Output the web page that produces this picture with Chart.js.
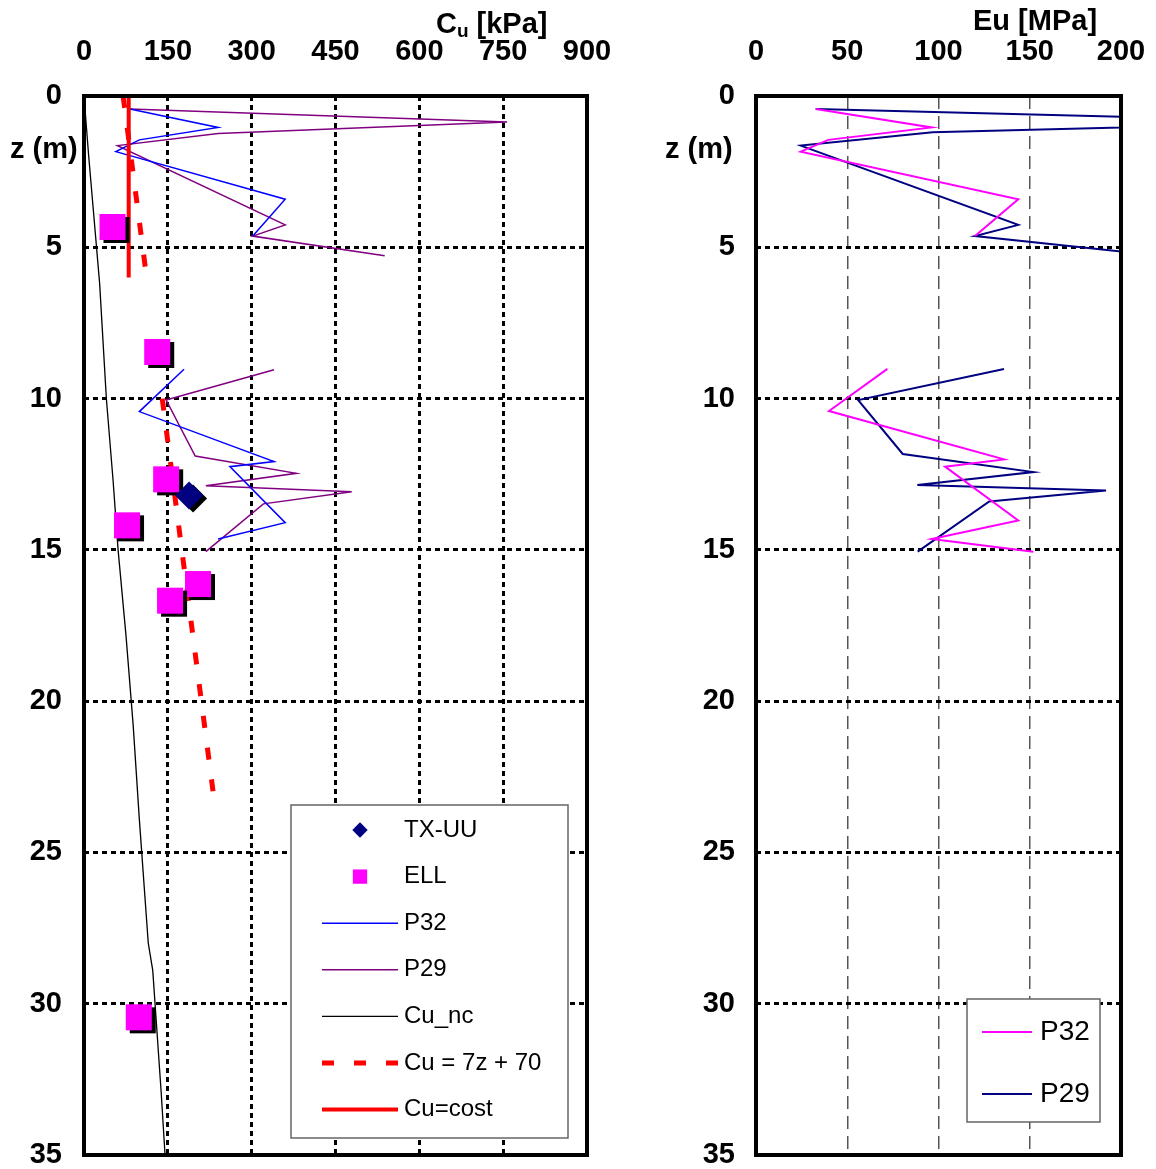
<!DOCTYPE html>
<html>
<head>
<meta charset="utf-8">
<script src="https://cdn.jsdelivr.net/npm/chart.js@4.4.1/dist/chart.umd.min.js"></script>
<style>
  html, body { margin: 0; padding: 0; background: #fff; }
  #wrap { position: relative; width: 1156px; height: 1169px; }
  canvas { position: absolute; top: 0; }
  #cuChart { left: 0; }
  #euChart { left: 640px; }
</style>
</head>
<body>
<div id="wrap">
  <canvas id="cuChart" width="640" height="1169"></canvas>
  <canvas id="euChart" width="516" height="1169"></canvas>
</div>
<script>
// ---- Undrained shear strength Cu (kPa) against depth z (m) ----
const zTxUU  = [13.2];
const cuTxUU = [188];

const zEll  = [4.33, 8.46, 12.67, 14.19, 16.13, 16.68, 30.45];
const cuEll = [51, 131, 147, 77, 204, 154, 98];

const zP32  = [0.43, 1.04, 1.45, 1.84, 3.41, 4.63, null, 9.03, 10.43, 12.08, 12.25, 14.10, 14.64];
const cuP32 = [82, 240, 99, 57, 360, 302, null, 179, 99, 340, 261, 360, 240];

const zP29  = [0.43, 0.86, 1.24, 1.64, 4.26, 4.63, 5.28, null, 9.05, 10.05, 11.90, 12.47, 12.88, 13.08, 13.48, 15.06];
const cuP29 = [82, 757, 240, 60, 360, 302, 538, null, 340, 147, 199, 380, 218, 479, 321, 218];

const zCuNc  = [0, 1.9, 6.2, 10, 12.7, 15, 17.8, 20.8, 23.9, 28, 28.9, 32.9, 35];
const cuCuNc = [0, 8, 28, 40, 52, 61, 75, 88, 99, 115, 123, 138, 145];

// Cu = 7z + 70
const zCuLin  = [0, 6, null, 10, 23];
const cuCuLin = [70, 112, null, 140, 231];

// Cu = constant
const zCuConst  = [0, 6];
const cuCuConst = [80, 80];

// ---- Undrained modulus Eu (MPa) against depth z (m) ----
const zE32 = [0.43, 1.04, 1.45, 1.84, 3.41, 4.63, null, 9.02, 10.41, 12.01, 12.25, 14.03, 14.64, 15.06];
const eE32 = [32.7, 96.3, 39.6, 24.5, 143.7, 120, null, 72, 40, 135.9, 103.6, 143.7, 96.3, 152];

const zE29 = [0.43, 0.86, 1.20, 1.64, 4.26, 4.63, 5.28, null, 9.02, 10.05, 11.83, 12.43, 12.86, 13.04, 13.40, 15.06];
const eE29 = [32.7, 318, 96.8, 24.5, 143.7, 120, 222, null, 135.9, 56, 80.4, 152, 88.4, 191.8, 127.8, 88.6];

// ---- axis ticks ----
const cuTicks = [0, 150, 300, 450, 600, 750, 900];
const eTicks  = [0, 50, 100, 150, 200];
const zTicks  = [0, 5, 10, 15, 20, 25, 30, 35];

const FONT = "'Liberation Sans', Arial, sans-serif";

function pts(xs, zs) {
  return xs.map((v, i) => ({ x: v, y: zs[i] }));
}
function fixedTicks(list) {
  return scale => { scale.ticks = list.map(v => ({ value: v })); };
}

// dark drop shadow under the test markers
const markerShadow = {
  id: 'markerShadow',
  beforeDatasetDraw(chart, args, o) {
    if (!chart.data.datasets[args.index].shadow) return;
    const ctx = chart.ctx;
    ctx.save();
    ctx.shadowColor = o.color;
    ctx.shadowOffsetX = o.dx;
    ctx.shadowOffsetY = o.dy;
    ctx.shadowBlur = 0;
  },
  afterDatasetDraw(chart, args) {
    if (chart.data.datasets[args.index].shadow) chart.ctx.restore();
  }
};

// heavy frame round the plot area
const plotFrame = {
  id: 'plotFrame',
  afterDatasetsDraw(chart, args, o) {
    const { ctx, chartArea: a } = chart;
    ctx.save();
    ctx.strokeStyle = o.color;
    ctx.lineWidth = o.width;
    ctx.setLineDash([]);
    ctx.strokeRect(a.left, a.top, a.right - a.left, a.bottom - a.top);
    ctx.restore();
  }
};

// boxed legend drawn inside the plot
const boxLegend = {
  id: 'boxLegend',
  afterDraw(chart, args, o) {
    const ctx = chart.ctx;
    ctx.save();
    ctx.fillStyle = '#fff';
    ctx.fillRect(o.x, o.y, o.w, o.h);
    ctx.strokeStyle = o.borderColor;
    ctx.lineWidth = o.borderWidth;
    ctx.strokeRect(o.x, o.y, o.w, o.h);
    chart.data.datasets.forEach((ds, i) => {
      const y = o.firstRow + i * o.rowGap;
      if (ds.showLine) {
        ctx.save();
        ctx.strokeStyle = ds.borderColor;
        ctx.lineWidth = ds.borderWidth;
        ctx.setLineDash(ds.borderDash || []);
        ctx.beginPath();
        ctx.moveTo(o.lineX0, y);
        ctx.lineTo(o.lineX1, y);
        ctx.stroke();
        ctx.restore();
      } else {
        ctx.save();
        ctx.fillStyle = ds.backgroundColor;
        Chart.helpers.drawPoint(ctx, {
          pointStyle: ds.pointStyle,
          radius: ds.pointRadius * o.markerScale,
          rotation: 0,
          borderWidth: 0
        }, (o.lineX0 + o.lineX1) / 2, y);
        ctx.restore();
      }
      ctx.fillStyle = '#000';
      ctx.font = o.font;
      ctx.textBaseline = 'middle';
      ctx.textAlign = 'left';
      ctx.fillText(ds.label, o.textX, y);
    });
    ctx.restore();
  }
};

// axis captions, written as runs so a subscript can follow its letter
const captions = {
  id: 'captions',
  afterDraw(chart, args, o) {
    const ctx = chart.ctx;
    ctx.save();
    ctx.fillStyle = '#000';
    ctx.textAlign = 'left';
    o.items.forEach(item => {
      let x = item.x;
      ctx.textBaseline = item.baseline || 'alphabetic';
      item.runs.forEach(r => {
        ctx.font = r.font;
        ctx.fillText(r.text, x, item.y + (r.dy || 0));
        x += ctx.measureText(r.text).width + (r.gap || 0);
      });
    });
    ctx.restore();
  }
};

const tickFont = { family: FONT, size: 29, weight: 'bold', lineHeight: 1.2 };
const dotted = [5, 4];

function depthAxis(labelPad, width) {
  return {
    type: 'linear',
    reverse: true,
    min: 0, max: 35,
    afterBuildTicks: fixedTicks(zTicks),
    ticks: { font: tickFont, color: '#000', padding: labelPad, autoSkip: false },
    grid: { color: '#000', lineWidth: 3, drawTicks: false },
    border: { display: false, dash: dotted },
    afterFit(s) { s.width = width; s.paddingTop = 0; s.paddingBottom = 0; }
  };
}

function valueAxis(max, list, grid, dash) {
  return {
    type: 'linear',
    position: 'top',
    min: 0, max: max,
    afterBuildTicks: fixedTicks(list),
    ticks: { font: tickFont, color: '#000', padding: 27, maxRotation: 0, autoSkip: false },
    grid: grid,
    border: { display: false, dash: dash },
    afterFit(s) { s.height = 96; s.paddingLeft = 0; s.paddingRight = 0; }
  };
}

// ---------- Cu profile ----------
new Chart(document.getElementById('cuChart'), {
  type: 'scatter',
  data: {
    datasets: [
      { label: 'TX-UU', data: pts(cuTxUU, zTxUU), pointStyle: 'rectRot', pointRadius: 14,
        backgroundColor: '#000080', borderWidth: 0, shadow: true, order: 0 },
      { label: 'ELL', data: pts(cuEll, zEll), pointStyle: 'rect', pointRadius: 18.4,
        backgroundColor: '#FF00FF', borderWidth: 0, shadow: true, order: 1 },
      { label: 'P32', data: pts(cuP32, zP32), showLine: true, borderColor: '#0000FF',
        borderWidth: 1.5, pointRadius: 0, order: 4 },
      { label: 'P29', data: pts(cuP29, zP29), showLine: true, borderColor: '#800080',
        borderWidth: 1.5, pointRadius: 0, order: 5 },
      { label: 'Cu_nc', data: pts(cuCuNc, zCuNc), showLine: true, borderColor: '#000',
        borderWidth: 1.3, pointRadius: 0, order: 6 },
      { label: 'Cu = 7z + 70', data: pts(cuCuLin, zCuLin), showLine: true, borderColor: '#FF0000',
        borderWidth: 5, borderDash: [12, 20], borderCapStyle: 'butt', pointRadius: 0, order: 3 },
      { label: 'Cu=cost', data: pts(cuCuConst, zCuConst), showLine: true, borderColor: '#FF0000',
        borderWidth: 4, pointRadius: 0, order: 2 }
    ]
  },
  options: {
    responsive: false,
    animation: false,
    layout: { autoPadding: false, padding: { top: 0, left: 0, right: 53, bottom: 14 } },
    scales: {
      x: valueAxis(900, cuTicks, { color: '#000', lineWidth: 3, drawTicks: false }, dotted),
      y: depthAxis(22, 84)
    },
    plugins: {
      legend: { display: false },
      tooltip: { enabled: false },
      markerShadow: { color: '#000', dx: 4, dy: 3 },
      plotFrame: { color: '#000', width: 4 },
      boxLegend: {
        x: 291, y: 805, w: 277, h: 333, borderColor: '#666', borderWidth: 1.5,
        firstRow: 830, rowGap: 46.6, lineX0: 322, lineX1: 398, textX: 404,
        markerScale: 0.55, font: "24px " + FONT
      },
      captions: {
        items: [
          { x: 436, y: 33, runs: [
            { text: 'C', font: 'bold 29px ' + FONT },
            { text: 'u', font: 'bold 19px ' + FONT, dy: 4, gap: 8 },
            { text: '[kPa]', font: 'bold 29px ' + FONT }
          ] },
          { x: 10, y: 150, baseline: 'middle', runs: [
            { text: 'z (m)', font: 'bold 29px ' + FONT }
          ] }
        ]
      }
    }
  },
  plugins: [markerShadow, plotFrame, boxLegend, captions]
});

// ---------- Eu profile ----------
new Chart(document.getElementById('euChart'), {
  type: 'scatter',
  data: {
    datasets: [
      { label: 'P32', data: pts(eE32, zE32), showLine: true, borderColor: '#FF00FF',
        borderWidth: 2, pointRadius: 0 },
      { label: 'P29', data: pts(eE29, zE29), showLine: true, borderColor: '#000080',
        borderWidth: 2, pointRadius: 0 }
    ]
  },
  options: {
    responsive: false,
    animation: false,
    layout: { autoPadding: false, padding: { top: 0, left: 0, right: 35, bottom: 14 } },
    scales: {
      x: valueAxis(200, eTicks, { color: '#555', lineWidth: 1.5, drawTicks: false }, [13, 7]),
      y: depthAxis(21, 116)
    },
    plugins: {
      legend: { display: false },
      tooltip: { enabled: false },
      plotFrame: { color: '#000', width: 4 },
      boxLegend: {
        x: 327, y: 999, w: 133, h: 123, borderColor: '#666', borderWidth: 1.5,
        firstRow: 1032, rowGap: 62, lineX0: 342, lineX1: 392, textX: 400,
        markerScale: 1, font: "28px " + FONT
      },
      captions: {
        items: [
          { x: 333, y: 30, runs: [
            { text: 'Eu [MPa]', font: 'bold 29px ' + FONT }
          ] },
          { x: 25, y: 150, baseline: 'middle', runs: [
            { text: 'z (m)', font: 'bold 29px ' + FONT }
          ] }
        ]
      }
    }
  },
  plugins: [plotFrame, boxLegend, captions]
});
</script>
</body>
</html>
